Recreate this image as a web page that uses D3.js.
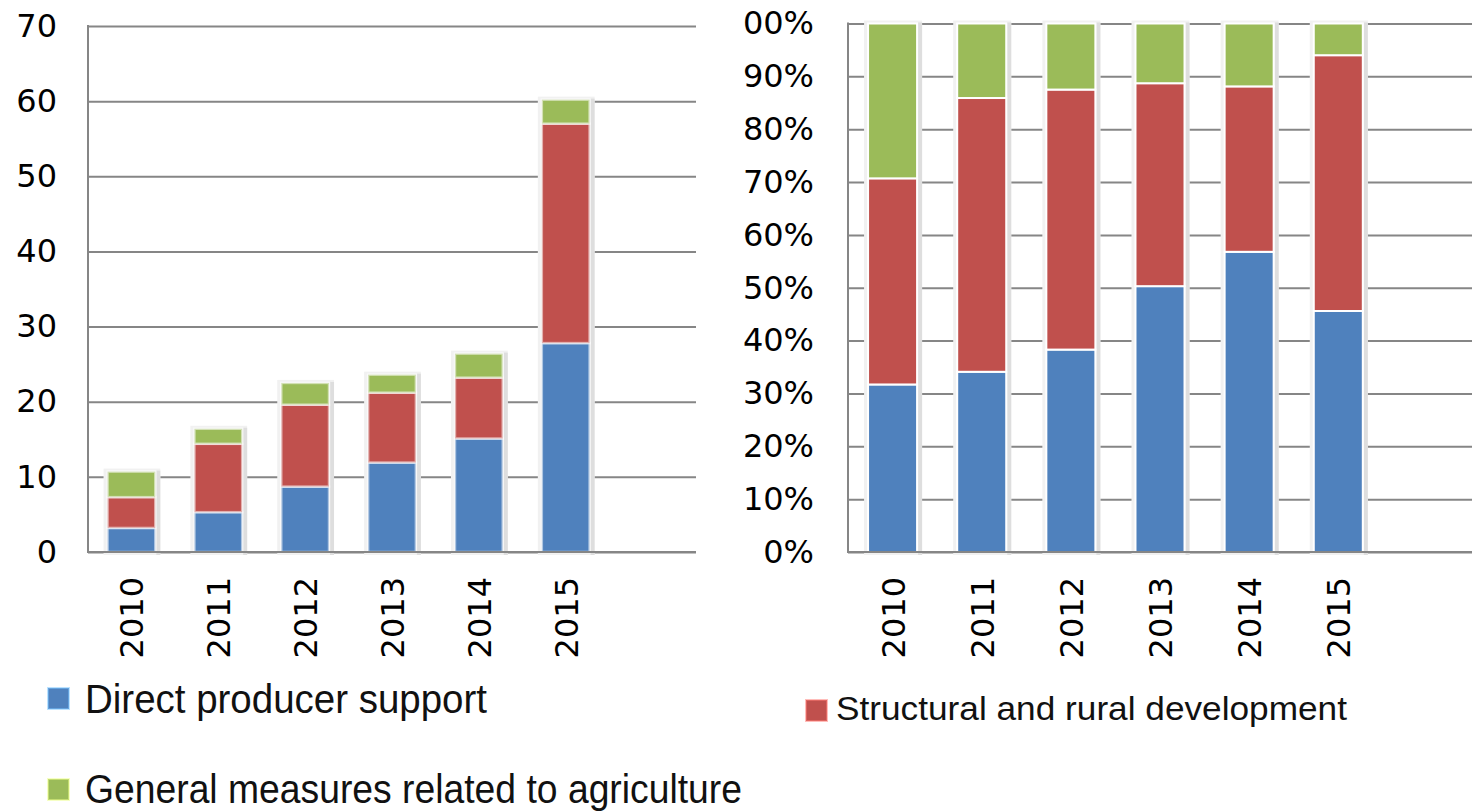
<!DOCTYPE html>
<html>
<head>
<meta charset="utf-8">
<script src="https://cdn.jsdelivr.net/npm/d3@7"></script>
<style>
  html, body { margin: 0; padding: 0; background: #fff; }
  svg { display: block; }
</style>
</head>
<body>
<svg id="chart" width="1472" height="812"></svg>
<script>
// ---- Data ----
const years = ["2010", "2011", "2012", "2013", "2014", "2015"];
const seriesNames = ["Direct producer support", "Structural and rural development", "General measures related to agriculture"];

// Left chart: absolute values
const directSupport = [3.2, 5.3, 8.7, 11.9, 15.1, 27.8];
const structuralDev = [4.1, 9.1, 10.9, 9.3, 8.1, 29.2];
const generalMeasures = [3.4, 2.0, 2.9, 2.4, 3.2, 3.2];

// Right chart: shares in percent
const shareDirect = [31.7, 34.1, 38.3, 50.3, 56.8, 45.6];
const shareStructural = [39.0, 51.8, 49.2, 38.4, 31.3, 48.4];
const shareGeneral = [29.3, 14.1, 12.5, 11.3, 11.9, 6.0];

const leftTicks = [0, 10, 20, 30, 40, 50, 60, 70];
const rightTicks = [0, 10, 20, 30, 40, 50, 60, 70, 80, 90, 100];
const rightTickLabels = ["0%", "10%", "20%", "30%", "40%", "50%", "60%", "70%", "80%", "90%", "100%"];

const colors = ["#4F81BD", "#C0504D", "#9BBB59"];
const keys = ["direct", "structural", "general"];

const svg = d3.select("#chart");
const defs = svg.append("defs");
const gridColor = "#868686";
const tickFont = "'DejaVu Sans', Verdana, sans-serif";

function buildRows(a, b, c) {
  return years.map((y, i) => ({ year: y, direct: a[i], structural: b[i], general: c[i] }));
}

function drawPanel(opts) {
  const { x0, x1, yTop, yBottom, domainMax, ticks, tickFormat, rows, labelPad, clipLeft, lightEdges } = opts;
  const g = svg.append("g");

  const x = d3.scaleBand()
    .domain(years.concat(["__empty"]))
    .range([x0, x1])
    .paddingInner(0.45)
    .paddingOuter(0.225);
  const y = d3.scaleLinear().domain([0, domainMax]).range([yBottom, yTop]);

  // gridlines + y tick labels (wrapped so an optional clip works in page coordinates)
  const yWrap = g.append("g");
  if (clipLeft !== undefined) {
    const id = "clip" + Math.round(x0);
    defs.append("clipPath").attr("id", id)
      .append("rect").attr("x", clipLeft).attr("y", 0).attr("width", 2000).attr("height", 812);
    yWrap.attr("clip-path", `url(#${id})`);
  }
  const yAxis = d3.axisLeft(y)
    .tickValues(ticks)
    .tickSize(-(x1 - x0))
    .tickPadding(labelPad)
    .tickFormat(tickFormat);
  const ya = yWrap.append("g").attr("transform", `translate(${x0},0)`).call(yAxis);
  ya.select(".domain").remove();
  ya.selectAll("line").attr("stroke", gridColor).attr("stroke-width", 2);
  ya.selectAll("text")
    .attr("font-family", tickFont)
    .attr("font-size", 32)
    .attr("fill", "#000");

  const stacked = d3.stack().keys(keys)(rows);

  // shadows behind each column
  const shadow = g.append("g");
  rows.forEach((r, i) => {
    const total = stacked[stacked.length - 1][i][1];
    const bx = x(r.year), bw = x.bandwidth();
    shadow.append("rect")
      .attr("x", bx - 4).attr("y", y(total) - 3)
      .attr("width", bw + 9).attr("height", y(0) - y(total) + 6)
      .attr("fill", "#f1f1f1");
    shadow.append("rect")
      .attr("x", bx + bw + 1).attr("y", y(total) - 1)
      .attr("width", 4).attr("height", y(0) - y(total) + 4)
      .attr("fill", "#dedede");
  });

  // bars
  stacked.forEach((layer, li) => {
    g.append("g").selectAll("rect")
      .data(layer)
      .join("rect")
      .attr("x", d => x(d.data.year))
      .attr("y", d => y(d[1]))
      .attr("width", x.bandwidth())
      .attr("height", d => y(d[0]) - y(d[1]))
      .attr("fill", colors[li])
      .attr("stroke", lightEdges ? "rgba(255,255,255,0.55)" : "#fff")
      .attr("stroke-width", lightEdges ? 2.5 : 2);
  });

  // axis lines
  g.append("line").attr("x1", x0).attr("x2", x0).attr("y1", yTop - 1).attr("y2", yBottom + 1)
    .attr("stroke", gridColor).attr("stroke-width", 2);
  g.append("line").attr("x1", x0).attr("x2", x1).attr("y1", yBottom).attr("y2", yBottom)
    .attr("stroke", gridColor).attr("stroke-width", 2);

  // x axis labels (rotated)
  const xAxis = d3.axisBottom(x).tickValues(years).tickSize(0);
  const xa = g.append("g").attr("transform", `translate(0,${yBottom})`).call(xAxis);
  xa.select(".domain").remove();
  xa.selectAll("text")
    .attr("font-family", tickFont)
    .attr("font-size", 32)
    .attr("fill", "#000")
    .attr("text-anchor", "end")
    .attr("transform", "rotate(-90)")
    .attr("x", -25)
    .attr("y", 12)
    .attr("dy", 0);
}

// Left panel: absolute values
drawPanel({
  x0: 88, x1: 696, yTop: 26, yBottom: 552, domainMax: 70,
  ticks: leftTicks, tickFormat: d => String(d),
  rows: buildRows(directSupport, structuralDev, generalMeasures),
  labelPad: 31, lightEdges: true
});

// Right panel: shares
drawPanel({
  x0: 848, x1: 1472, yTop: 23.5, yBottom: 552, domainMax: 100,
  ticks: rightTicks, tickFormat: d => rightTickLabels[rightTicks.indexOf(d)],
  rows: buildRows(shareDirect, shareStructural, shareGeneral),
  labelPad: 34, clipLeft: 743, lightEdges: false
});

// ---- Legend ----
const legendItems = [
  { name: seriesNames[0], color: colors[0], mx: 48, my: 688, tx: 85, ty: 713, len: 402, size: 41, font: "'Liberation Sans Narrow', 'Liberation Sans', Arial, sans-serif" },
  { name: seriesNames[1], color: colors[1], mx: 806, my: 700, tx: 836, ty: 720, len: 511, size: 33, font: "'Liberation Sans', Arial, sans-serif" },
  { name: seriesNames[2], color: colors[2], mx: 48, my: 779, tx: 85, ty: 803, len: 657, size: 41, font: "'Liberation Sans Narrow', 'Liberation Sans', Arial, sans-serif" }
];
const lg = svg.append("g");
legendItems.forEach(it => {
  lg.append("rect")
    .attr("x", it.mx).attr("y", it.my).attr("width", 21).attr("height", 21)
    .attr("fill", it.color)
    .attr("stroke", d3.color(it.color).brighter(1.2).copy({opacity: 0.5}))
    .attr("stroke-width", 2);
  lg.append("text")
    .attr("x", it.tx).attr("y", it.ty)
    .attr("font-family", it.font)
    .attr("font-size", it.size)
    .attr("fill", "#111")
    .attr("textLength", it.len)
    .attr("lengthAdjust", "spacingAndGlyphs")
    .text(it.name);
});
</script>
</body>
</html>
